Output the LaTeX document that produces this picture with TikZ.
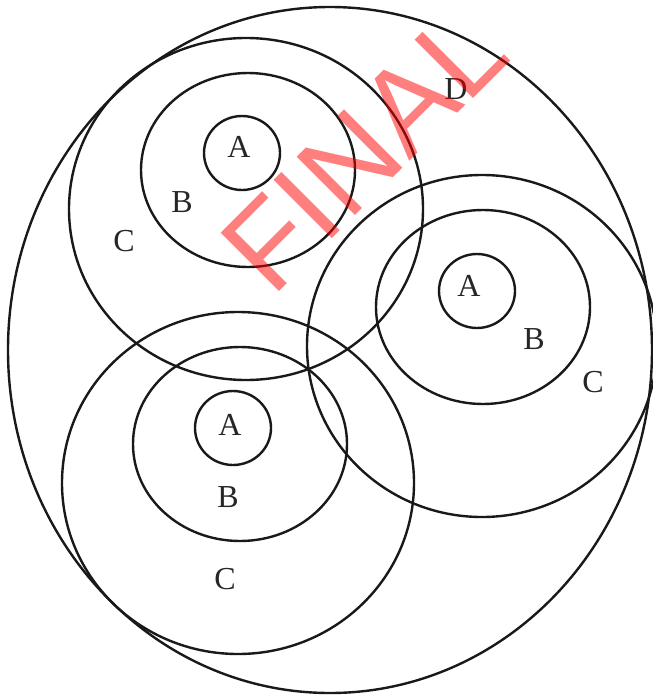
\documentclass[tikz,border=0pt]{standalone}
\usepackage{fontspec}
\setmainfont{Liberation Serif}
\newfontfamily\markfont{Liberation Sans}
\usetikzlibrary{positioning}

\begin{document}
\begin{tikzpicture}[x=0.5pt,y=-0.5pt,
  ring/.style={draw=black!90,line width=1.2pt},
  lbl/.style={inner sep=0pt,text=black!85,font=\fontsize{16}{18}\selectfont},
  stamp/.style={inner sep=0pt,text=red,text opacity=.5,rotate=45,font=\markfont\fontsize{60}{60}\selectfont}]
\useasboundingbox (0,0) rectangle (653,696);
% outer region
\draw[ring] (330,350) ellipse (322 and 343);
% upper left group
\draw[ring] (246,209) ellipse (177 and 171);
\draw[ring] (248,170) ellipse (107 and 97);
\draw[ring] (242,153) ellipse (38 and 37);
% right group
\draw[ring] (482,346) ellipse (175 and 171);
\draw[ring] (483,307) ellipse (107 and 97);
\draw[ring] (477,291) ellipse (38 and 37);
% lower group
\draw[ring] (238,483) ellipse (176 and 171);
\draw[ring] (240,444) ellipse (107 and 97);
\draw[ring] (233,428) ellipse (38 and 37);
% labels
\node[lbl] (d) at (456,89) {D};
\node[lbl] (a1) at (239,147) {A};
\node[lbl] (b1) at (182,202) {B};
\node[lbl] (c1) at (124,241) {C};
\node[lbl] (a2) at (469,286) {A};
\node[lbl] (b2) at (534,339) {B};
\node[lbl] (c2) at (593,382) {C};
\node[lbl] (a3) at (230,425) {A};
\node[lbl] (b3) at (228,497) {B};
\node[lbl] (c3) at (225,579) {C};
% watermark
\node[stamp] (final) at (364,149) {FINAL};
\end{tikzpicture}
\end{document}
